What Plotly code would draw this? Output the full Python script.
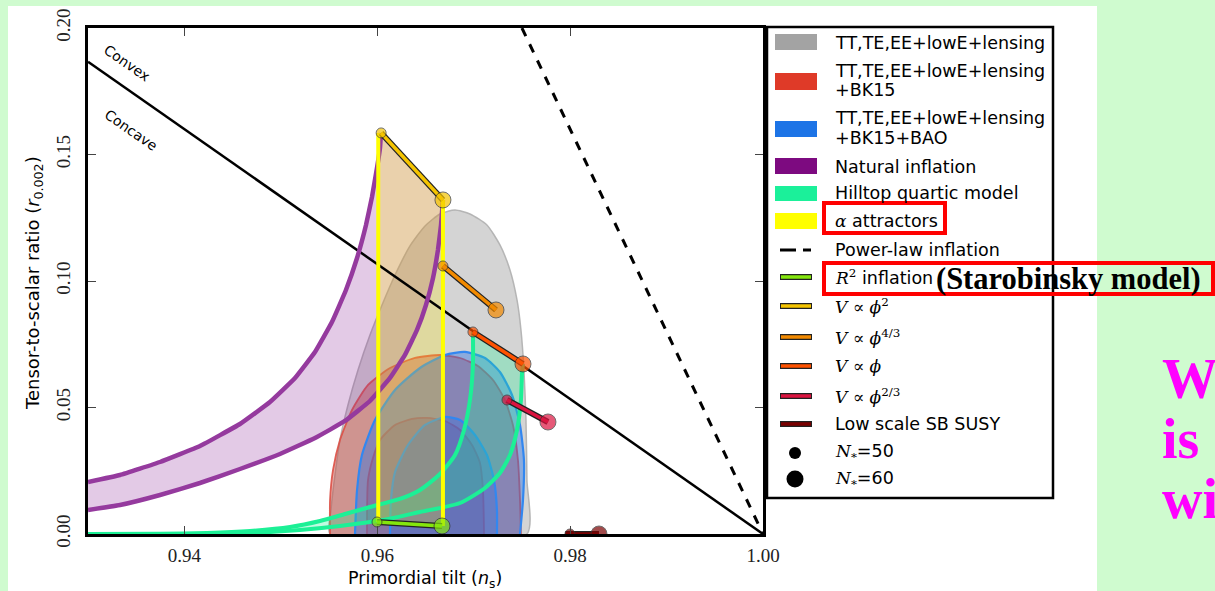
import plotly.graph_objects as go

# ---------------- data (n_s, r) ----------------
grey95_ns = [0.96806,0.96961,0.97137,0.97272,0.97376,0.97449,0.97490,0.97521,0.97542,0.97552,0.97552,
             0.95510,0.95520,0.95561,0.95613,0.95696,0.95800,0.95924,0.96049,0.96184,0.96339,0.96495,0.96650,0.96806]
grey95_r = [0.12808,0.12649,0.12215,0.11424,0.10436,0.09250,0.08064,0.06483,0.04506,0.02135,0.0,
            0.0,0.00949,0.02332,0.03716,0.05099,0.06483,0.07866,0.09052,0.10238,0.11385,0.12175,0.12649,0.12808]

red95_ns = [0.95510,0.95510,0.95541,0.95613,0.95738,0.95904,0.96132,0.96391,0.96650,0.96858,0.97044,0.97200,0.97324,0.97407,0.97459,0.97480,0.97490]
red95_r = [0.0,0.01344,0.02530,0.03716,0.04902,0.05890,0.06562,0.06957,0.07076,0.06957,0.06641,0.06088,0.05297,0.04309,0.02925,0.01344,0.0]
red68_ns = [0.95893,0.95904,0.95955,0.96028,0.96184,0.96360,0.96515,0.96702,0.96858,0.96982,0.97065,0.97096,0.97107]
red68_r = [0.0,0.02135,0.03004,0.03716,0.04309,0.04546,0.04586,0.04467,0.04111,0.03518,0.02807,0.01739,0.0]

blue95_ns = [0.95769,0.95790,0.95841,0.95976,0.96184,0.96443,0.96702,0.96909,0.97117,0.97272,0.97397,0.97480,0.97521,0.97511,0.97480]
blue95_r = [0.0,0.01739,0.03123,0.04506,0.05692,0.06562,0.07076,0.07195,0.06957,0.06404,0.05495,0.04309,0.02925,0.01344,0.0]
blue68_ns = [0.96132,0.96142,0.96184,0.96318,0.96495,0.96702,0.96858,0.97013,0.97137,0.97210,0.97241,0.97241]
blue68_r = [0.0,0.01344,0.02451,0.03518,0.04309,0.04625,0.04506,0.03913,0.03123,0.02135,0.00949,0.0]

# natural inflation, N=50 (upper-left) and N=60 (lower-right)
nat50_ns = [0.93000,0.93332,0.93747,0.94161,0.94576,0.94887,0.95147,0.95354,0.95530,0.95675,
            0.95790,0.95883,0.95945,0.95997,0.96028,0.96038]
nat50_r = [0.02056,0.02332,0.02846,0.03479,0.04348,0.05218,0.06167,0.07194,0.08380,0.09645,
           0.10910,0.12215,0.13322,0.14468,0.15259,0.15852]
nat60_ns = [0.93000,0.93332,0.93747,0.94161,0.94576,0.94991,0.95354,0.95665,0.95924,0.96132,
            0.96287,0.96412,0.96505,0.96578,0.96629,0.96661,0.96681]
nat60_r = [0.00949,0.01146,0.01542,0.02016,0.02569,0.03162,0.03795,0.04467,0.05257,0.06167,
           0.07076,0.08064,0.09052,0.10120,0.11227,0.12215,0.13203]

# hilltop quartic, N=50 and N=60
hill50_ns = [0.93,0.93747,0.94234,0.94680,0.95095,0.95406,0.95665,0.95924,0.96235,0.96443,0.96650,0.96806,0.96899,0.96961,0.96992,0.96992]
hill50_r = [0.0,0.0001,0.0004,0.00119,0.00277,0.00514,0.00791,0.01067,0.01384,0.01739,0.02372,0.03123,0.04111,0.05297,0.06681,0.07985]
hill60_ns = [0.93,0.94161,0.94784,0.95198,0.95613,0.96059,0.96443,0.96858,0.97117,0.97272,0.97376,0.97449,0.97490,0.97501,0.97511]
hill60_r = [0.0,0.0,0.00059,0.00158,0.00316,0.00553,0.00870,0.01225,0.01818,0.02411,0.03123,0.04111,0.05297,0.06364,0.06720]

# alpha attractors band edges
alpha_ns = [0.96010,0.96010,0.96681,0.96681]
alpha_r = [0.00474,0.15852,0.13203,0.00316]

# model points: [N=50, N=60]
phi2_ns, phi2_r = [0.96040,0.96681], [0.15852,0.13203]
phi43_ns, phi43_r = [0.96681,0.97231], [0.10594,0.08855]
phi1_ns, phi1_r = [0.96992,0.97511], [0.07985,0.06720]
phi23_ns, phi23_r = [0.97345,0.97770], [0.05297,0.04427]
r2_ns, r2_r = [0.95997,0.96671], [0.00474,0.00316]
susy_ns, susy_r = [0.97998,0.98299], [0.0,0.0]
susy_line_ns = [0.97950,0.98299]

ns_line = [0.93, 1.00]
concave_r = [8/3*(1-v) for v in ns_line]
powerlaw_ns = [0.975, 1.00]
powerlaw_r = [8*(1-v) for v in powerlaw_ns]

x_ticks = [0.94, 0.96, 0.98, 1.00]
x_ticktext = ["0.94", "0.96", "0.98", "1.00"]
y_ticks = [0.0, 0.05, 0.10, 0.15, 0.20]
y_ticktext = ["0.00", "0.05", "0.10", "0.15", "0.20"]

M = '<span style="font-family:DejaVu Serif;font-size:17px">'
legend_labels = ["TT,TE,EE+lowE+lensing", "TT,TE,EE+lowE+lensing", "+BK15", "TT,TE,EE+lowE+lensing",
                 "+BK15+BAO", "Natural inflation", "Hilltop quartic model",
                 M + "<i>α</i></span> attractors",
                 "Power-law inflation",
                 M + "<i>R</i><sup>2</sup></span> inflation",
                 M + "<i>V</i> ∝ <i>ϕ</i><sup>2</sup></span>",
                 M + "<i>V</i> ∝ <i>ϕ</i><sup>4/3</sup></span>",
                 M + "<i>V</i> ∝ <i>ϕ</i></span>",
                 M + "<i>V</i> ∝ <i>ϕ</i><sup>2/3</sup></span>",
                 "Low scale SB SUSY",
                 M + "<i>N</i><sub>*</sub></span>=50",
                 M + "<i>N</i><sub>*</sub></span>=60"]

# ---------------- figure ----------------
W, H = 1215, 591
L, R, T, B = 88, 763, 28, 534

fig = go.Figure()

def poly(xs, ys, fill, lc, lw, shape="spline"):
    fig.add_trace(go.Scatter(x=xs, y=ys, mode="lines", fill="toself", fillcolor=fill,
                             line=dict(color=lc, width=lw, shape=shape, smoothing=0.6),
                             hoverinfo="skip", showlegend=False))

def line(xs, ys, color, width, dash="solid", shape="linear", smoothing=0.6):
    fig.add_trace(go.Scatter(x=xs, y=ys, mode="lines",
                             line=dict(color=color, width=width, dash=dash, shape=shape, smoothing=smoothing),
                             hoverinfo="skip", showlegend=False))

# Planck contours
poly(grey95_ns, grey95_r, "rgba(170,170,170,0.5)", "rgba(175,175,175,0.9)", 1.5)
poly(red95_ns, red95_r, "rgba(200,60,50,0.42)", "rgba(220,80,70,0.9)", 1.8)
poly(red68_ns, red68_r, "rgba(200,60,50,0.3)", "rgba(220,80,70,0.9)", 1.8)
poly(blue95_ns, blue95_r, "rgba(30,110,235,0.4)", "rgba(50,135,240,1)", 2.2)
poly(blue68_ns, blue68_r, "rgba(30,110,235,0.3)", "rgba(50,135,240,1)", 2.2)

# model fills
poly(nat50_ns + nat60_ns[::-1], nat50_r + nat60_r[::-1], "rgba(142,44,154,0.25)", "rgba(0,0,0,0)", 0,
     shape="linear")
poly(hill50_ns + hill60_ns[::-1], hill50_r + hill60_r[::-1], "rgba(26,239,147,0.28)", "rgba(0,0,0,0)", 0)
poly(alpha_ns, alpha_r, "rgba(255,230,0,0.25)", "rgba(0,0,0,0)", 0, shape="linear")

# concave / power-law lines
line(ns_line, concave_r, "black", 2.5)
line(powerlaw_ns, powerlaw_r, "black", 3, "dash")

# model curves
line(nat50_ns, nat50_r, "#953a9e", 4.5, shape="spline", smoothing=0.3)
line(nat60_ns, nat60_r, "#953a9e", 4.5, shape="spline", smoothing=0.3)
line(hill50_ns, hill50_r, "#1cf096", 4, shape="spline")
line(hill60_ns, hill60_r, "#1cf096", 4, shape="spline")
line([alpha_ns[0], alpha_ns[1]], [alpha_r[0], alpha_r[1]], "#ffff00", 4)
line([alpha_ns[3], alpha_ns[2]], [alpha_r[3], alpha_r[2]], "#ffff00", 4)

def model(xs, ys, color, lxs=None):
    lx = lxs if lxs else xs
    ly = ys if lxs is None else [ys[0]] * len(lx)
    line(lx, ly, "#222222", 6)
    line(lx, ly, color, 3.5)
    fig.add_trace(go.Scatter(x=xs, y=ys, mode="markers",
                             marker=dict(size=[10, 16], color=color, line=dict(color="#333333", width=1)),
                             hoverinfo="skip", showlegend=False))

model(r2_ns, r2_r, "#84e60d")
model(phi2_ns, phi2_r, "#f5c400")
model(phi43_ns, phi43_r, "#f28a00")
model(phi1_ns, phi1_r, "#ff5200")
model(phi23_ns, phi23_r, "#dc1440")
model(susy_ns, susy_r, "#7a0000", susy_line_ns)

# ---------------- layout helpers (pixel -> paper) ----------------
def X(px):
    return (px - L) / (R - L)

def Y(py):
    return (B - py) / (B - T)

shapes = []
annotations = []

# white slide panel
shapes.append(dict(type="rect", xref="paper", yref="paper", x0=X(8), x1=X(1097), y0=Y(593), y1=Y(6),
                   fillcolor="white", line=dict(width=0), layer="below"))

# legend box
shapes.append(dict(type="rect", xref="paper", yref="paper", x0=X(767), x1=X(1053), y0=Y(498), y1=Y(27),
                   fillcolor="white", line=dict(color="black", width=2.5)))

sw = [(34, 50, "#a3a3a3"), (73, 90, "#df3a28"), (121, 137, "#1d74e6"),
      (158, 174, "#7d0a80"), (186, 201, "#1bf09a"), (213, 229, "#ffff00")]
for y0, y1, c in sw:
    shapes.append(dict(type="rect", xref="paper", yref="paper", x0=X(775), x1=X(817), y0=Y(y1), y1=Y(y0),
                       fillcolor=c, line=dict(width=0)))

# dashed swatch
for a, b in [(780, 796), (803, 811)]:
    shapes.append(dict(type="line", xref="paper", yref="paper", x0=X(a), x1=X(b), y0=Y(250), y1=Y(250),
                       line=dict(color="black", width=3)))

for yy, c in [(277, "#84e60d"), (306, "#f5c400"), (337, "#f28a00"), (366, "#ff5200"),
              (396, "#dc1440"), (424, "#7a0000")]:
    shapes.append(dict(type="line", xref="paper", yref="paper", x0=X(780), x1=X(812), y0=Y(yy), y1=Y(yy),
                       line=dict(color="#222222", width=6)))
    shapes.append(dict(type="line", xref="paper", yref="paper", x0=X(781), x1=X(811), y0=Y(yy), y1=Y(yy),
                       line=dict(color=c, width=3.5)))

for cy, rr in [(453, 6), (479, 8.5)]:
    shapes.append(dict(type="circle", xref="paper", yref="paper", x0=X(795 - rr), x1=X(795 + rr),
                       y0=Y(cy + rr), y1=Y(cy - rr), fillcolor="black", line=dict(width=0)))

# red highlight boxes
shapes.append(dict(type="rect", xref="paper", yref="paper", x0=X(824), x1=X(945), y0=Y(233), y1=Y(203),
                   line=dict(color="#ff0000", width=4)))
shapes.append(dict(type="rect", xref="paper", yref="paper", x0=X(824), x1=X(1213), y0=Y(294), y1=Y(263),
                   line=dict(color="#ff0000", width=4)))

leg_y = [43, 71, 90, 118, 138, 167, 193, 221, 250, 277, 306, 337, 366, 396, 424, 452, 479]
for lab, yy in zip(legend_labels, leg_y):
    annotations.append(dict(text=lab, xref="paper", yref="paper", x=X(833), y=Y(yy), xanchor="left",
                            yanchor="middle", showarrow=False,
                            font=dict(family="DejaVu Sans", size=17.5, color="black")))

annotations.append(dict(text="<b>(Starobinsky model)</b>", xref="paper", yref="paper", x=X(934), y=Y(279),
                        xanchor="left", yanchor="middle", showarrow=False,
                        font=dict(family="Liberation Serif", size=30.5, color="black")))

for txt, yy in [("W", 379), ("is", 439), ("wi", 499)]:
    annotations.append(dict(text="<b>" + txt + "</b>", xref="paper", yref="paper", x=X(1160), y=Y(yy),
                            xanchor="left", yanchor="middle", showarrow=False,
                            font=dict(family="Liberation Serif", size=56, color="#ff00ff")))

annotations.append(dict(text="Convex", xref="paper", yref="paper", x=X(127), y=Y(63), textangle=35,
                        xanchor="center", yanchor="middle",
                        showarrow=False, font=dict(family="DejaVu Sans", size=14, color="black")))
annotations.append(dict(text="Concave", xref="paper", yref="paper", x=X(131), y=Y(130), textangle=35,
                        xanchor="center", yanchor="middle",
                        showarrow=False, font=dict(family="DejaVu Sans", size=14, color="black")))

# axis titles
annotations.append(dict(text="Primordial tilt (<i>n</i><sub>s</sub>)", xref="paper", yref="paper",
                        x=X(425), y=Y(579), xanchor="center", yanchor="middle", showarrow=False,
                        font=dict(family="DejaVu Sans", size=17.5, color="black")))
annotations.append(dict(text="Tensor-to-scalar ratio (<i>r</i><sub>0.002</sub>)", xref="paper", yref="paper",
                        x=X(34), y=Y(283), xanchor="center", yanchor="middle", showarrow=False, textangle=-90,
                        font=dict(family="DejaVu Sans", size=18, color="black")))

axis_common = dict(showline=True, linecolor="black", linewidth=2.5, mirror="allticks", ticks="inside",
                   ticklen=8, tickwidth=1, tickcolor="#444444", showgrid=False, zeroline=False,
                   automargin=False,
                   tickfont=dict(family="Liberation Serif", size=19, color="#222222"))

fig.update_layout(
    width=W, height=H,
    margin=dict(l=L, r=W - R, t=T, b=H - B, autoexpand=False),
    paper_bgcolor="#cffbcf",
    plot_bgcolor="white",
    showlegend=False,
    shapes=shapes,
    annotations=annotations,
    xaxis=dict(range=[0.93, 1.00], tickvals=x_ticks, ticktext=x_ticktext, ticklabelstandoff=2, **axis_common),
    yaxis=dict(range=[0.0, 0.20], tickvals=y_ticks, ticktext=y_ticktext, tickangle=-90, ticklabelstandoff=8,
               **axis_common),
)

fig.write_html("out.html")
